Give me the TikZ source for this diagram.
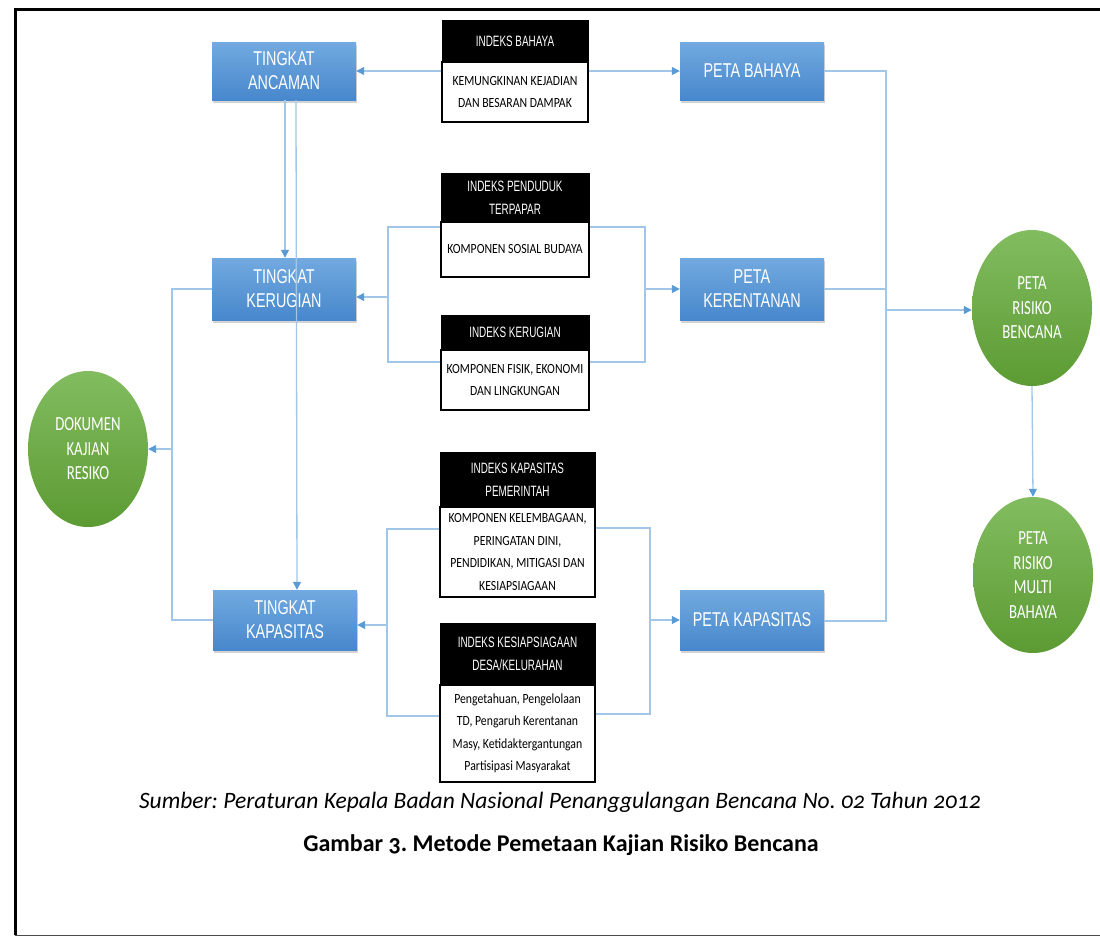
\documentclass[tikz,border=0pt]{standalone}
\usepackage{fontspec}
\setmainfont{Carlito}
\newfontfamily\boxfont[FakeStretch=0.72]{Liberation Sans}
\newfontfamily\hdrfont[FakeStretch=0.66]{Liberation Sans}
\newfontfamily\bodyfont[FakeStretch=0.84]{Carlito}
\newfontfamily\ellfont[FakeStretch=0.74]{Carlito}
\newfontfamily\capfont[Numbers=OldStyle]{Carlito}
\usetikzlibrary{arrows.meta,shapes.geometric,shadows}
\definecolor{boxtop}{HTML}{72AAE0}
\definecolor{boxbot}{HTML}{4787CC}
\definecolor{greentop}{HTML}{82BC60}
\definecolor{greenbot}{HTML}{5C9B33}
\definecolor{linecol}{HTML}{A2C6E8}
\definecolor{tipcol}{HTML}{5B9BD5}
\tikzset{
  bluebox/.style={rectangle, minimum width=144pt, minimum height=60pt, inner sep=0pt,
    top color=boxtop, bottom color=boxbot, draw=none, text=white, align=center,
    font=\boxfont\fontsize{20}{24}\selectfont,
    drop shadow={shadow xshift=1pt, shadow yshift=-2.5pt, opacity=0.35}},
  greenell/.style={ellipse, minimum width=120pt, minimum height=156pt, inner sep=0pt,
    top color=greentop, bottom color=greenbot, draw=none, text=white, align=center,
    font=\ellfont\fontsize{20}{24.5}\selectfont},
  hdr/.style={rectangle, fill=black, draw=black, line width=1pt, text=white, align=center,
    inner sep=0pt, font=\hdrfont\fontsize{15}{23}\selectfont},
  bdy/.style={rectangle, fill=white, draw=black, line width=1.2pt, text=black, align=center,
    inner sep=0pt, font=\bodyfont\fontsize{14}{22.5}\selectfont},
  conn/.style={draw=linecol, line width=1.3pt},
  arr/.style={conn, -{Triangle[length=8pt,width=8pt,color=tipcol]}},
}
\begin{document}
\frenchspacing
\begin{tikzpicture}[x=1pt,y=-1pt]
\useasboundingbox (0,0) rectangle (1100,937);
% frame
\draw[line width=3pt, black] (15,935) -- (15,9) -- (1100,9);
\draw[line width=1pt, black!70] (15,935) -- (1100,935);

% blue boxes
\node[bluebox, minimum height=58pt] (anc) at (284,71) {TINGKAT\\ANCAMAN};
\node[bluebox, minimum height=62pt] (ker) at (284,289) {TINGKAT\\KERUGIAN};
\node[bluebox] (kap) at (285,620) {TINGKAT\\KAPASITAS};
\node[bluebox, minimum height=58pt] (pb) at (752,71) {PETA BAHAYA};
\node[bluebox, minimum height=62pt] (pk) at (752,289) {PETA\\KERENTANAN};
\node[bluebox] (pkap) at (752,620) {PETA KAPASITAS};

% green ellipses
\node[greenell] (dok) at (88,449) {DOKUMEN\\KAJIAN\\RESIKO};
\node[greenell] (prb) at (1032,308) {PETA\\RISIKO\\BENCANA};
\node[greenell] (prmb) at (1033,575) {PETA\\RISIKO\\MULTI\\BAHAYA};

% index boxes
\node[hdr, minimum width=146pt, minimum height=42pt] (ib_h) at (515,41) {INDEKS BAHAYA};
\node[bdy, minimum width=146pt, minimum height=60pt] (ib_b) at (515,92) {KEMUNGKINAN KEJADIAN\\DAN BESARAN DAMPAK};

\node[hdr, minimum width=148pt, minimum height=49pt] (pp_h) at (515,197.5) {INDEKS PENDUDUK\\TERPAPAR};
\node[bdy, minimum width=148pt, minimum height=55pt] (pp_b) at (515,249.5) {KOMPONEN SOSIAL BUDAYA};

\node[hdr, minimum width=148pt, minimum height=35pt] (kr_h) at (515,332.5) {INDEKS KERUGIAN};
\node[bdy, minimum width=148pt, minimum height=60pt] (kr_b) at (515,380) {KOMPONEN FISIK, EKONOMI\\DAN LINGKUNGAN};

\node[hdr, minimum width=155pt, minimum height=55pt] (ikp_h) at (517.5,479.5) {INDEKS KAPASITAS\\PEMERINTAH};
\node[bdy, minimum width=155pt, minimum height=90pt] (ikp_b) at (517.5,552) {KOMPONEN KELEMBAGAAN,\\PERINGATAN DINI,\\PENDIDIKAN, MITIGASI DAN\\KESIAPSIAGAAN};

\node[hdr, minimum width=155pt, minimum height=62pt] (ikd_h) at (517.5,654) {INDEKS KESIAPSIAGAAN\\DESA/KELURAHAN};
\node[bdy, minimum width=155pt, minimum height=97pt] (ikd_b) at (517.5,733.5) {Pengetahuan, Pengelolaan\\TD, Pengaruh Kerentanan\\Masy, Ketidaktergantungan\\Partisipasi Masyarakat};

% top row connectors
\draw[arr] (ib_b.west |- anc) -- (anc.east);
\draw[arr] (ib_b.east |- pb) -- (pb.west);

% verticals from ancaman
\draw[arr] ([xshift=1pt]anc.south) -- ([xshift=1pt]ker.north);
\draw[arr] ([xshift=12pt]anc.south) -- ([xshift=12pt]kap.north);

% middle brackets
\coordinate (lk1) at (388,227);
\coordinate (lk2) at (388,362);
\coordinate (lkm) at (388,297);
\draw[conn] (pp_b.west |- lk1) -- (lk1) -- (lk2) -- (kr_b.west |- lk2);
\draw[arr] (lkm) -- (ker.east |- lkm);
\coordinate (rk1) at (645,227);
\coordinate (rk2) at (645,362);
\draw[conn] (pp_b.east |- rk1) -- (rk1) -- (rk2) -- (kr_b.east |- rk2);
\draw[arr] (rk1 |- pk) -- (pk.west);

% left loop
\coordinate (ll1) at (172,289);
\coordinate (ll2) at (172,620);
\draw[conn] (ker.west) -- (ll1) -- (ll2) -- (kap.west);
\draw[arr] (ll1 |- dok) -- (dok.east);

% bottom brackets
\coordinate (lb1) at (387,529);
\coordinate (lb2) at (387,716);
\coordinate (lbm) at (387,625);
\draw[conn] (ikp_b.west |- lb1) -- (lb1) -- (lb2) -- (ikd_b.west |- lb2);
\draw[arr] (lbm) -- (kap.east |- lbm);
\coordinate (rb1) at (650,528);
\coordinate (rb2) at (650,714);
\draw[conn] (ikp_b.east |- rb1) -- (rb1) -- (rb2) -- (ikd_b.east |- rb2);
\draw[arr] (rb1 |- pkap) -- (pkap.west);

% right collector
\coordinate (c1) at (886,71);
\coordinate (c2) at (886,621);
\coordinate (cm) at (886,310);
\draw[conn] (pb.east) -- (c1) -- (c2) -- (pkap.east |- c2);
\draw[conn] (pk.east) -- (pk.east -| c1);
\draw[arr] (cm) -- (prb.west |- cm);
\draw[arr] (prb.south) -- (prmb.north);

% caption
\node[font=\capfont\itshape\fontsize{23.5}{26}\selectfont, inner sep=0pt] (src) at (560,802)
  {Sumber: Peraturan Kepala Badan Nasional Penanggulangan Bencana No. 02 Tahun 2012};
\node[font=\capfont\bfseries\fontsize{24}{26}\selectfont, inner sep=0pt] (cap) at (561,845)
  {Gambar 3. Metode Pemetaan Kajian Risiko Bencana};
\end{tikzpicture}
\end{document}
